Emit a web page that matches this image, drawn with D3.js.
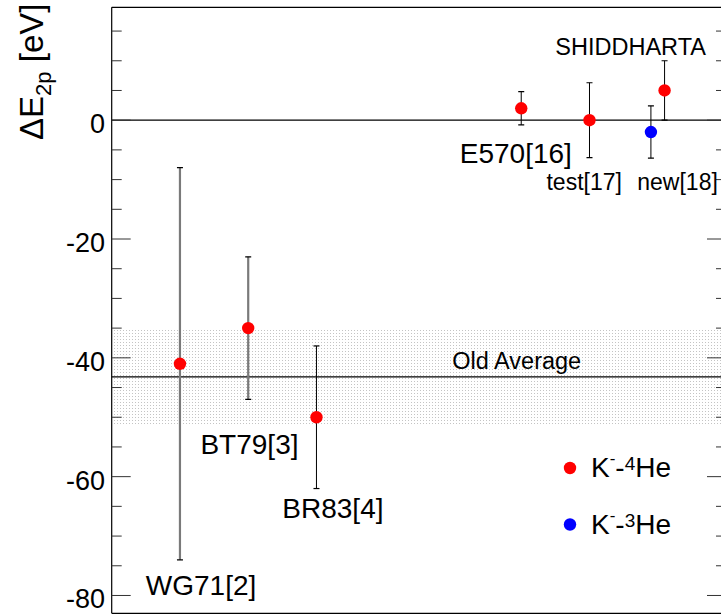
<!DOCTYPE html>
<html>
<head>
<meta charset="utf-8">
<script src="https://cdn.jsdelivr.net/npm/d3@7"></script>
<style>
  body { margin: 0; background: #fff; }
  svg text { font-family: "Liberation Sans", Arial, sans-serif; fill: #000; }
</style>
</head>
<body>
<svg width="721" height="616"></svg>
<script>
// experiments (K- 4He), shift of the 2p level in eV
const expNames = ["WG71[2]", "BT79[3]", "BR83[4]", "E570[16]", "test[17]", "new[18]"]
const expX     = [1, 2, 3, 6, 7, 8.1]
const shift4He = [-41, -35, -50, 2, 0, 5]
const err4He   = [33, 12, 12, 2.8, 6.3, 5]

// K- 3He
const x3He     = [7.9]
const shift3He = [-2]
const err3He   = [4.4]

// old world average
const oldAvg = -43.2
const oldErr = 8

// label anchors in data units (x, baseline value)
const labelX = [0.5, 1.3, 2.5, 5.1, 6.37, 7.7]
const labelY = [-80, -56.2, -67, -7.2, -11.75, -11.75]
const labelSize = [28, 28, 28, 28, 23, 23]

const yTicks = [0, -20, -40, -60, -80]

const svg = d3.select("svg")

let x = d3.scaleLinear().domain([0, 9]).range([111.7, 726])
let y = d3.scaleLinear().domain([19, -83]).range([7.3, 613.3])

const defs = svg.append("defs")
const pat = defs.append("pattern")
                .attr("id", "dots")
                .attr("patternUnits", "userSpaceOnUse")
                .attr("width", 3)
                .attr("height", 3)
pat.append("rect").attr("width", 1).attr("height", 1).attr("fill", "#c4c4c4")

const clip = defs.append("clipPath").attr("id", "frame")
clip.append("rect")
    .attr("x", x(0)).attr("y", y(19))
    .attr("width", x(9) - x(0)).attr("height", y(-83) - y(19))

const plot = svg.append("g").attr("clip-path", "url(#frame)")

// old average band + line
plot.append("rect")
    .attr("x", x(0))
    .attr("y", y(oldAvg + oldErr))
    .attr("width", x(9) - x(0))
    .attr("height", y(oldAvg - oldErr) - y(oldAvg + oldErr))
    .attr("fill", "url(#dots)")

plot.append("line")
    .attr("x1", x(0)).attr("x2", x(9))
    .attr("y1", y(oldAvg)).attr("y2", y(oldAvg))
    .attr("stroke", "#000").attr("stroke-width", 1.2)

// zero line
plot.append("line")
    .attr("x1", x(0)).attr("x2", x(9))
    .attr("y1", y(0)).attr("y2", y(0))
    .attr("stroke", "#000").attr("stroke-width", 1.2)

// axis frame + ticks (left and mirrored right)
const frame = svg.append("g")
frame.append("line")
     .attr("x1", x(0)).attr("x2", x(0)).attr("y1", y(19)).attr("y2", y(-83))
     .attr("stroke", "#000").attr("stroke-width", 1.2)
frame.append("line")
     .attr("x1", x(0)).attr("x2", x(9)).attr("y1", y(19)).attr("y2", y(19))
     .attr("stroke", "#000").attr("stroke-width", 1.2)
frame.append("line")
     .attr("x1", x(0)).attr("x2", x(9)).attr("y1", y(-83)).attr("y2", y(-83))
     .attr("stroke", "#000").attr("stroke-width", 1.2)

const allTicks = d3.range(15, -81, -5)

frame.selectAll(".tl")
     .data(allTicks)
     .enter()
     .append("line")
     .attr("x1", x(0))
     .attr("x2", d => x(0) + (d % 20 === 0 ? 19 : 10))
     .attr("y1", d => y(d)).attr("y2", d => y(d))
     .attr("stroke", "#333").attr("stroke-width", 1)

frame.selectAll(".tr")
     .data(allTicks)
     .enter()
     .append("line")
     .attr("x1", x(9))
     .attr("x2", d => x(9) - (d % 20 === 0 ? 19 : 10))
     .attr("y1", d => y(d)).attr("y2", d => y(d))
     .attr("stroke", "#333").attr("stroke-width", 1)

frame.selectAll(".tlab")
     .data(yTicks)
     .enter()
     .append("text")
     .attr("x", 105)
     .attr("y", d => y(d) + 13)
     .attr("text-anchor", "end")
     .style("font-size", "27px")
     .text(d => d)

// y title
const ttl = svg.append("text")
               .attr("transform", "translate(43,140) rotate(-90)")
               .style("font-size", "33px")
ttl.append("tspan").text("\u0394E")
ttl.append("tspan").attr("dy", 8).style("font-size", "22px").text("2p")
ttl.append("tspan").attr("dy", -8).text(" [eV]")

// error bars
const greyBars = ["WG71[2]", "BT79[3]"]
const capW = 3

const pts4 = expNames.map((n, i) => ({ name: n, x: expX[i], v: shift4He[i], e: err4He[i] }))
const pts3 = x3He.map((xx, i) => ({ x: xx, v: shift3He[i], e: err3He[i] }))

function drawBars(data, grey) {
  const g = plot.append("g")
  data.forEach(d => {
    const isGrey = grey && greyBars.includes(d.name)
    g.append("line")
     .attr("x1", x(d.x)).attr("x2", x(d.x))
     .attr("y1", y(d.v + d.e)).attr("y2", y(d.v - d.e))
     .attr("stroke", isGrey ? "#7a7a7a" : "#000")
     .attr("stroke-width", isGrey ? 2.2 : 1)
    ;[d.v + d.e, d.v - d.e].forEach(c => {
      g.append("line")
       .attr("x1", x(d.x) - capW).attr("x2", x(d.x) + capW)
       .attr("y1", y(c)).attr("y2", y(c))
       .attr("stroke", "#000").attr("stroke-width", 1.2)
    })
  })
}
drawBars(pts4, true)
drawBars(pts3, false)

// markers
plot.selectAll(".m4")
    .data(pts4)
    .enter()
    .append("circle")
    .attr("cx", d => x(d.x))
    .attr("cy", d => y(d.v))
    .attr("r", 6.2)
    .attr("fill", "#ff0000")

plot.selectAll(".m3")
    .data(pts3)
    .enter()
    .append("circle")
    .attr("cx", d => x(d.x))
    .attr("cy", d => y(d.v))
    .attr("r", 6.2)
    .attr("fill", "#0000ff")

// experiment labels
svg.selectAll(".elab")
   .data(expNames)
   .enter()
   .append("text")
   .attr("x", (d, i) => x(labelX[i]))
   .attr("y", (d, i) => y(labelY[i]))
   .style("font-size", (d, i) => labelSize[i] + "px")
   .text(d => d)

svg.append("text")
   .attr("x", x(6.5)).attr("y", y(10.97))
   .style("font-size", "23.5px")
   .text("SHIDDHARTA")

svg.append("text")
   .attr("x", x(4.99)).attr("y", y(-41.9))
   .style("font-size", "23.5px")
   .text("Old Average")

// legend
const legendItems = [{ color: "#ff0000", A: "4" }, { color: "#0000ff", A: "3" }]
const leg = svg.append("g").attr("transform", "translate(570, 468)")
legendItems.forEach((it, i) => {
  const row = leg.append("g").attr("transform", `translate(0, ${i * 56.5})`)
  row.append("circle").attr("r", 6.2).attr("fill", it.color)
  const t = row.append("text").attr("x", 21).attr("y", 9).style("font-size", "28px")
  t.append("tspan").text("K")
  t.append("tspan").attr("dy", -13).style("font-size", "17px").text("-")
  t.append("tspan").attr("dy", 13).text("-")
  t.append("tspan").attr("dy", -7).style("font-size", "19px").text(it.A)
  t.append("tspan").attr("dy", 7).text("He")
})
</script>
</body>
</html>
